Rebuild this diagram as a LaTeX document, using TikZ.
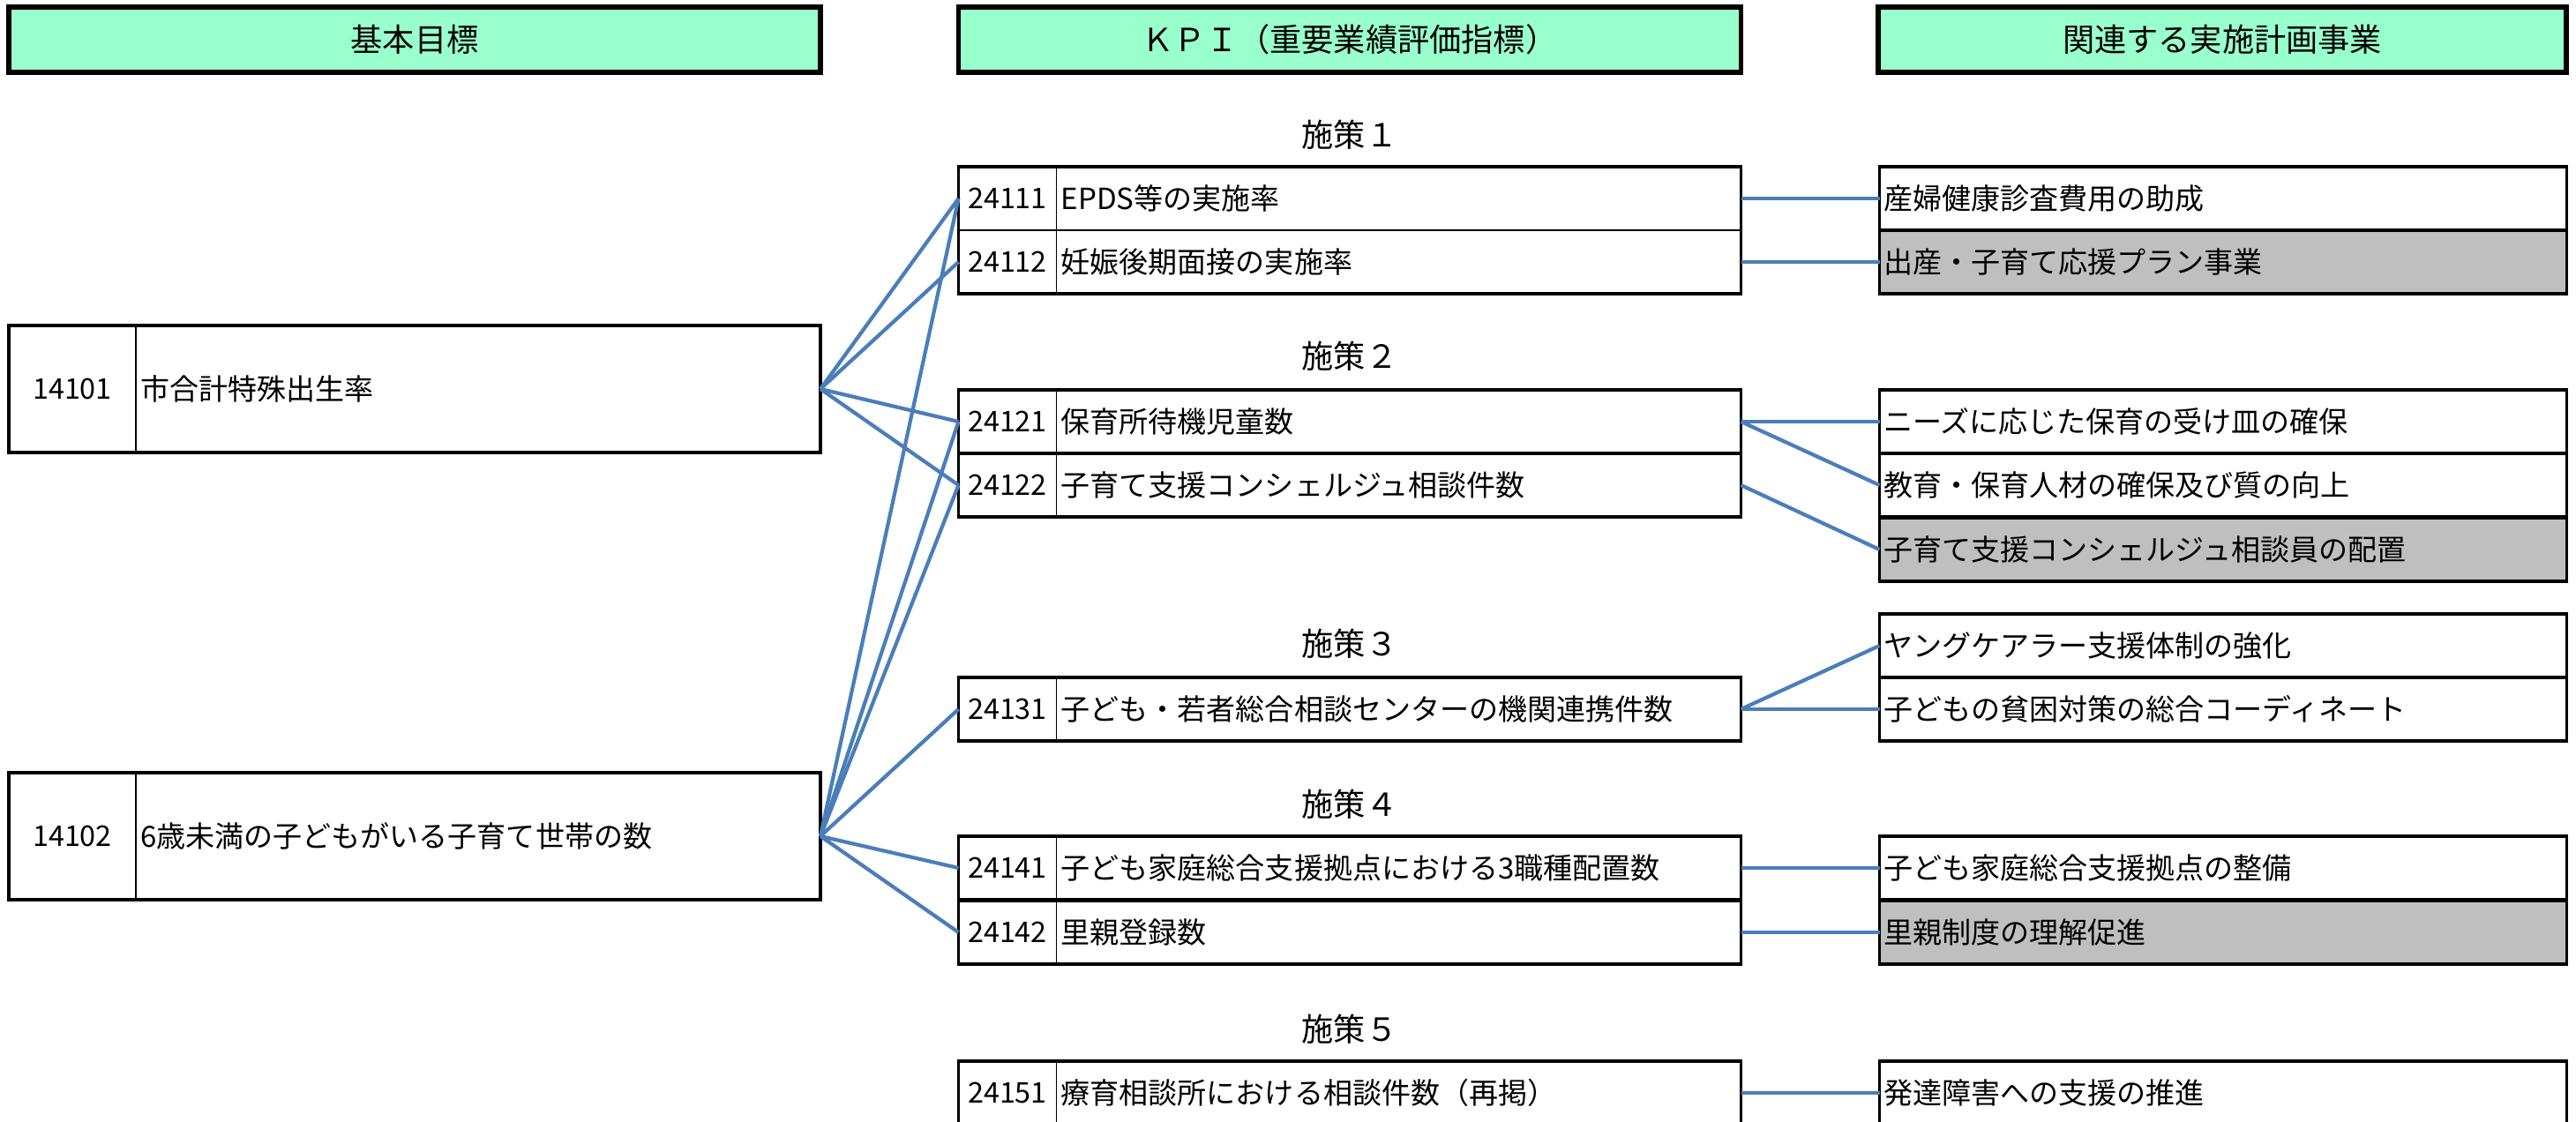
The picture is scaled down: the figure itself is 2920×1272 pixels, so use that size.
\documentclass[tikz,border=0pt]{standalone}
\usepackage{fontspec}
\setmainfont{Noto Sans CJK JP}
\usepackage{tikz}
\usepackage{xcolor}
\definecolor{MintGreen}{HTML}{99FFCC}
\definecolor{LinkBlue}{HTML}{4A7EBB}
\definecolor{PlanGray}{HTML}{BFBFBF}
\tikzstyle{HeaderBlock}=[draw,line width=1.6pt,fill=MintGreen,minimum height=7.4mm,inner sep=0pt,outer sep=0pt,font=\fontsize{10.3pt}{12pt}\selectfont]
\tikzstyle{GoalBlock}=[draw,line width=0.9pt,minimum width=92mm,minimum height=14.4mm,inner sep=0pt,outer sep=0pt]
\tikzstyle{KpiBlock}=[draw,line width=0.9pt,minimum width=88.7mm,minimum height=7.2mm,inner sep=0pt,outer sep=0pt]
\tikzstyle{CodeCell}=[draw,line width=0.3pt,anchor=west,minimum width=11.1mm,minimum height=7.2mm,inner sep=0pt,outer sep=0pt,font=\fontsize{9.2pt}{11pt}\selectfont]
\tikzstyle{TextCell}=[anchor=west,inner xsep=0.45mm,inner ysep=0pt]
\tikzstyle{PlanBlock}=[draw,line width=0.9pt,minimum height=7.2mm,text width=77.0mm,inner xsep=0.45mm,inner ysep=0pt,outer sep=0pt,align=left]
\tikzstyle{PlanGrayBlock}=[PlanBlock,fill=PlanGray]
\tikzstyle{sectionLabel}=[inner sep=0pt,font=\fontsize{10.3pt}{12pt}\selectfont]
\tikzstyle{linkLine}=[LinkBlue,line width=1.2pt]

\begin{document}
\begin{tikzpicture}[x=0.1mm,y=-0.1mm,font=\fontsize{9.4pt}{11pt}\selectfont]
        \useasboundingbox (0,0) rectangle (2920,1272);

        % Headers
        \node[HeaderBlock,minimum width=92mm] (hGoal) at (470,45) {基本目標};
        \node[HeaderBlock,minimum width=88.7mm] (hKpi) at (1530,45) {ＫＰＩ（重要業績評価指標）};
        \node[HeaderBlock,minimum width=78mm] (hPlan) at (2519,45) {関連する実施計画事業};

        % Basic goals
        \node[GoalBlock] (g14101) at (470,441) {};
        \node[CodeCell,minimum width=14.4mm,minimum height=14.4mm] (g14101c) at (g14101.west) {14101};
        \node[TextCell] (g14101t) at (g14101c.east) {市合計特殊出生率};

        \node[GoalBlock] (g14102) at (470,948) {};
        \node[CodeCell,minimum width=14.4mm,minimum height=14.4mm] (g14102c) at (g14102.west) {14102};
        \node[TextCell] (g14102t) at (g14102c.east) {6歳未満の子どもがいる子育て世帯の数};

        % Measure 1
        \node[sectionLabel] (s1) at (1530,153) {施策１};
        \node[KpiBlock,line width=0.3pt] (k24111) at (1530,225) {};
        \node[CodeCell] (k24111c) at (k24111.west) {24111};
        \node[TextCell] (k24111t) at (k24111c.east) {EPDS等の実施率};
        \node[KpiBlock,line width=0.3pt] (k24112) at (1530,297) {};
        \node[CodeCell] (k24112c) at (k24112.west) {24112};
        \node[TextCell] (k24112t) at (k24112c.east) {妊娠後期面接の実施率};
        \draw[line width=0.9pt] (k24111.north west) rectangle (k24112.south east);

        \node[PlanBlock] (p11) at (2520,225) {産婦健康診査費用の助成};
        \node[PlanGrayBlock] (p12) at (2520,297) {出産・子育て応援プラン事業};

        % Measure 2
        \node[sectionLabel] (s2) at (1530,404) {施策２};
        \node[KpiBlock] (k24121) at (1530,478) {};
        \node[CodeCell] (k24121c) at (k24121.west) {24121};
        \node[TextCell] (k24121t) at (k24121c.east) {保育所待機児童数};
        \node[KpiBlock] (k24122) at (1530,550) {};
        \node[CodeCell] (k24122c) at (k24122.west) {24122};
        \node[TextCell] (k24122t) at (k24122c.east) {子育て支援コンシェルジュ相談件数};

        \node[PlanBlock] (p21) at (2520,478) {ニーズに応じた保育の受け皿の確保};
        \node[PlanBlock] (p22) at (2520,550) {教育・保育人材の確保及び質の向上};
        \node[PlanGrayBlock] (p23) at (2520,623) {子育て支援コンシェルジュ相談員の配置};

        % Measure 3
        \node[sectionLabel] (s3) at (1530,730) {施策３};
        \node[KpiBlock] (k24131) at (1530,804) {};
        \node[CodeCell] (k24131c) at (k24131.west) {24131};
        \node[TextCell] (k24131t) at (k24131c.east) {子ども・若者総合相談センターの機関連携件数};

        \node[PlanBlock] (p31) at (2520,732) {ヤングケアラー支援体制の強化};
        \node[PlanBlock] (p32) at (2520,804) {子どもの貧困対策の総合コーディネート};

        % Measure 4
        \node[sectionLabel] (s4) at (1530,912) {施策４};
        \node[KpiBlock] (k24141) at (1530,984) {};
        \node[CodeCell] (k24141c) at (k24141.west) {24141};
        \node[TextCell] (k24141t) at (k24141c.east) {子ども家庭総合支援拠点における3職種配置数};
        \node[KpiBlock] (k24142) at (1530,1057) {};
        \node[CodeCell] (k24142c) at (k24142.west) {24142};
        \node[TextCell] (k24142t) at (k24142c.east) {里親登録数};

        \node[PlanBlock] (p41) at (2520,984) {子ども家庭総合支援拠点の整備};
        \node[PlanGrayBlock] (p42) at (2520,1057) {里親制度の理解促進};

        % Measure 5
        \node[sectionLabel] (s5) at (1530,1167) {施策５};
        \node[KpiBlock] (k24151) at (1530,1239) {};
        \node[CodeCell] (k24151c) at (k24151.west) {24151};
        \node[TextCell] (k24151t) at (k24151c.east) {療育相談所における相談件数（再掲）};

        \node[PlanBlock] (p51) at (2520,1239) {発達障害への支援の推進};

        % Goal -> KPI
        \draw[linkLine] (g14101.east) -- (k24111.west);
        \draw[linkLine] (g14101.east) -- (k24112.west);
        \draw[linkLine] (g14101.east) -- (k24121.west);
        \draw[linkLine] (g14101.east) -- (k24122.west);

        \draw[linkLine] (g14102.east) -- (k24111.west);
        \draw[linkLine] (g14102.east) -- (k24121.west);
        \draw[linkLine] (g14102.east) -- (k24122.west);
        \draw[linkLine] (g14102.east) -- (k24131.west);
        \draw[linkLine] (g14102.east) -- (k24141.west);
        \draw[linkLine] (g14102.east) -- (k24142.west);

        % KPI -> plan
        \draw[linkLine] (k24111.east) -- (p11.west);
        \draw[linkLine] (k24112.east) -- (p12.west);
        \draw[linkLine] (k24121.east) -- (p21.west);
        \draw[linkLine] (k24121.east) -- (p22.west);
        \draw[linkLine] (k24122.east) -- (p23.west);
        \draw[linkLine] (k24131.east) -- (p31.west);
        \draw[linkLine] (k24131.east) -- (p32.west);
        \draw[linkLine] (k24141.east) -- (p41.west);
        \draw[linkLine] (k24142.east) -- (p42.west);
        \draw[linkLine] (k24151.east) -- (p51.west);

    \end{tikzpicture}
\end{document}
